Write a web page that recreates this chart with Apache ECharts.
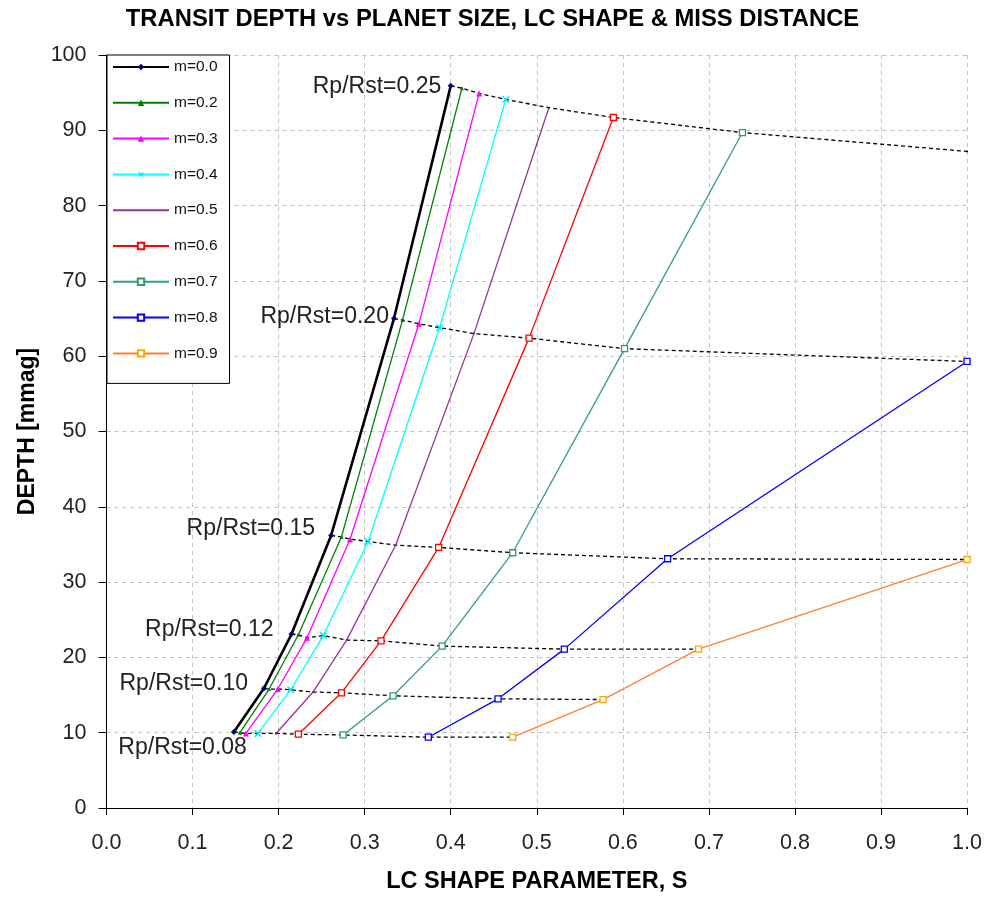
<!DOCTYPE html>
<html>
<head>
<meta charset="utf-8">
<script src="https://cdn.jsdelivr.net/npm/echarts@6/dist/echarts.min.js"></script>
<style>html,body{margin:0;padding:0;background:#fff;}#c{width:985px;height:899px;}</style>
</head>
<body>
<div id="c"></div>
<script>
// Series names (miss distance m)
const seriesNames = ['m=0.0','m=0.2','m=0.3','m=0.4','m=0.5','m=0.6','m=0.7','m=0.8','m=0.9'];
// Planet size labels for each row of points (Rp/Rst = 0.08, 0.10, 0.12, 0.15, 0.20, 0.25)
const rpLabels = ['Rp/Rst=0.08','Rp/Rst=0.10','Rp/Rst=0.12','Rp/Rst=0.15','Rp/Rst=0.20','Rp/Rst=0.25'];
// [S, depth mmag] points for each m, ordered by Rp/Rst
const m00 = [[0.148,10.1],[0.183,15.9],[0.215,23.1],[0.261,36.2],[0.334,65.0],[0.400,95.9]];
const m02 = [[0.155,10.0],[0.189,15.8],[0.223,23.0],[0.273,36.0],[0.344,64.8],[0.413,95.6]];
const m03 = [[0.162,9.9],[0.199,15.8],[0.233,22.6],[0.283,35.7],[0.363,64.3],[0.433,94.9]];
const m04 = [[0.176,9.9],[0.214,15.7],[0.252,22.9],[0.304,35.4],[0.387,63.8],[0.464,94.1]];
const m05 = [[0.197,9.9],[0.240,15.4],[0.279,22.3],[0.336,34.9],[0.427,63.0],[0.514,93.0]];
const m06 = [[0.223,9.8],[0.273,15.3],[0.319,22.2],[0.386,34.6],[0.491,62.4],[0.589,91.7]];
const m07 = [[0.275,9.7],[0.333,14.9],[0.390,21.5],[0.472,33.9],[0.602,61.0],[0.739,89.7]];
const m08 = [[0.374,9.4],[0.455,14.5],[0.532,21.1],[0.652,33.1],[1.0,59.3]];
const m09 = [[0.472,9.4],[0.577,14.4],[0.688,21.1],[1.0,33.0]];
// end of the Rp/Rst=0.25 dashed curve at S=1
const r25End = [1.0, 87.2];
const xTicks = [0,0.1,0.2,0.3,0.4,0.5,0.6,0.7,0.8,0.9,1.0];
const yTicks = [0,10,20,30,40,50,60,70,80,90,100];

const allM = [m00,m02,m03,m04,m05,m06,m07,m08,m09];

const styles = [
  {line:'#000000', w:2.6, sym:'diamond', size:6, fill:'#000080', border:'#000080'},
  {line:'#008000', w:1.3, sym:'triangle', size:4, fill:'#008000', border:'#008000'},
  {line:'#ff00ff', w:1.3, sym:'triangle', size:6, fill:'#ff00ff', border:'#ff00ff'},
  {line:'#00ffff', w:1.3, sym:'path://M4.2,0H5.8V4.2H10V5.8H5.8V10H4.2V5.8H0V4.2H4.2Z', size:9, rot:45, fill:'#00e5ee', border:'#00e5ee'},
  {line:'#993399', w:1.3, sym:'none', size:0, fill:'#993399', border:'#993399'},
  {line:'#ff0000', w:1.3, sym:'rect', size:6, fill:'#ffffff', border:'#ff0000'},
  {line:'#339999', w:1.3, sym:'rect', size:6, fill:'#ffffff', border:'#339966'},
  {line:'#0000ff', w:1.3, sym:'rect', size:6, fill:'#ffffff', border:'#0000ff'},
  {line:'#ff8033', w:1.3, sym:'rect', size:6, fill:'#ffffff', border:'#ffa500'}
];

const series = [];
// dashed constant-Rp curves
const labelOffsets = [[14,16],[-15,-5],[-17,-4],[-15,-7],[-4,-2],[-8.5,1]];
for (let i = 0; i < rpLabels.length; i++) {
  const pts = [];
  allM.forEach(a => { if (a[i]) pts.push(a[i]); });
  if (i === 5) pts.push(r25End);
  const data = pts.map((p, k) => k === 0 ? {
    value: p,
    label: {show:true, position:'left', distance:0, offset:labelOffsets[i], formatter: rpLabels[i],
            fontFamily:'Liberation Sans, Arial', fontSize:23, color:'#222'}
  } : {value: p});
  series.push({
    name: rpLabels[i], type:'line', data: data, showSymbol:true, symbol:'circle', symbolSize:2,
    itemStyle:{color:'#000'},
    lineStyle:{color:'#000', width:1.3, type:[4,3]}, z:3, silent:true, clip:false
  });
}
allM.forEach((a, k) => {
  const s = styles[k];
  series.push({
    name: seriesNames[k], type:'line', data: a,
    symbol: s.sym, symbolSize: s.size, symbolRotate: s.rot || 0, showSymbol: s.sym !== 'none',
    lineStyle:{color:s.line, width:s.w},
    itemStyle:{color:s.fill, borderColor:s.border, borderWidth: s.sym === 'rect' ? 1.3 : 0},
    z: 4 + k, clip:false
  });
});

const legendData = seriesNames.map((n, k) => k === 4 ? {name:n, itemStyle:{opacity:0}} : {name:n});

const chart = echarts.init(document.getElementById('c'), null, {renderer:'canvas'});
chart.setOption({
  backgroundColor:'#ffffff',
  animation:false,
  title:{text:'TRANSIT DEPTH vs PLANET SIZE, LC SHAPE & MISS DISTANCE', left:'center', top:2,
         textStyle:{fontFamily:'Liberation Sans, Arial', fontWeight:'bold', fontSize:23.8, color:'#000'}},
  grid:{left:106.5, right:16.7, top:55, bottom:88.3},
  legend:{
    data: legendData, orient:'vertical', left:107, top:55,
    itemWidth:56, itemHeight:8, itemGap:19.8,
    padding:[4,12,22,5],
    backgroundColor:'#ffffff', borderColor:'#000', borderWidth:1,
    textStyle:{fontFamily:'Liberation Sans, Arial', fontSize:15.5, color:'#111', lineHeight:14},
    z:20
  },
  xAxis:{
    type:'value', min:0, max:1, interval:0.1,
    name:'LC SHAPE PARAMETER, S', nameLocation:'middle', nameGap:62,
    nameTextStyle:{fontFamily:'Liberation Sans, Arial', fontWeight:'bold', fontSize:23.5, color:'#000'},
    axisLine:{show:true, onZero:false, lineStyle:{color:'#000', width:1}},
    axisTick:{show:true, length:7, lineStyle:{color:'#000'}},
    axisLabel:{formatter: v => v.toFixed(1), margin:24, fontFamily:'Liberation Sans, Arial', fontSize:21.5, color:'#222'},
    splitLine:{show:true, lineStyle:{color:'#c0c0c0', type:[4,4], width:1}}
  },
  yAxis:{
    type:'value', min:0, max:100, interval:10,
    name:'DEPTH [mmag]', nameLocation:'middle', nameGap:67, nameRotate:90,
    nameTextStyle:{fontFamily:'Liberation Sans, Arial', fontWeight:'bold', fontSize:23, color:'#000'},
    axisLine:{show:true, onZero:false, lineStyle:{color:'#000', width:1}},
    axisTick:{show:true, length:8, lineStyle:{color:'#000'}},
    axisLabel:{margin:20, fontFamily:'Liberation Sans, Arial', fontSize:21.5, color:'#222'},
    splitLine:{show:true, lineStyle:{color:'#c0c0c0', type:[4,4], width:1}}
  },
  series: series
});
</script>
</body>
</html>
